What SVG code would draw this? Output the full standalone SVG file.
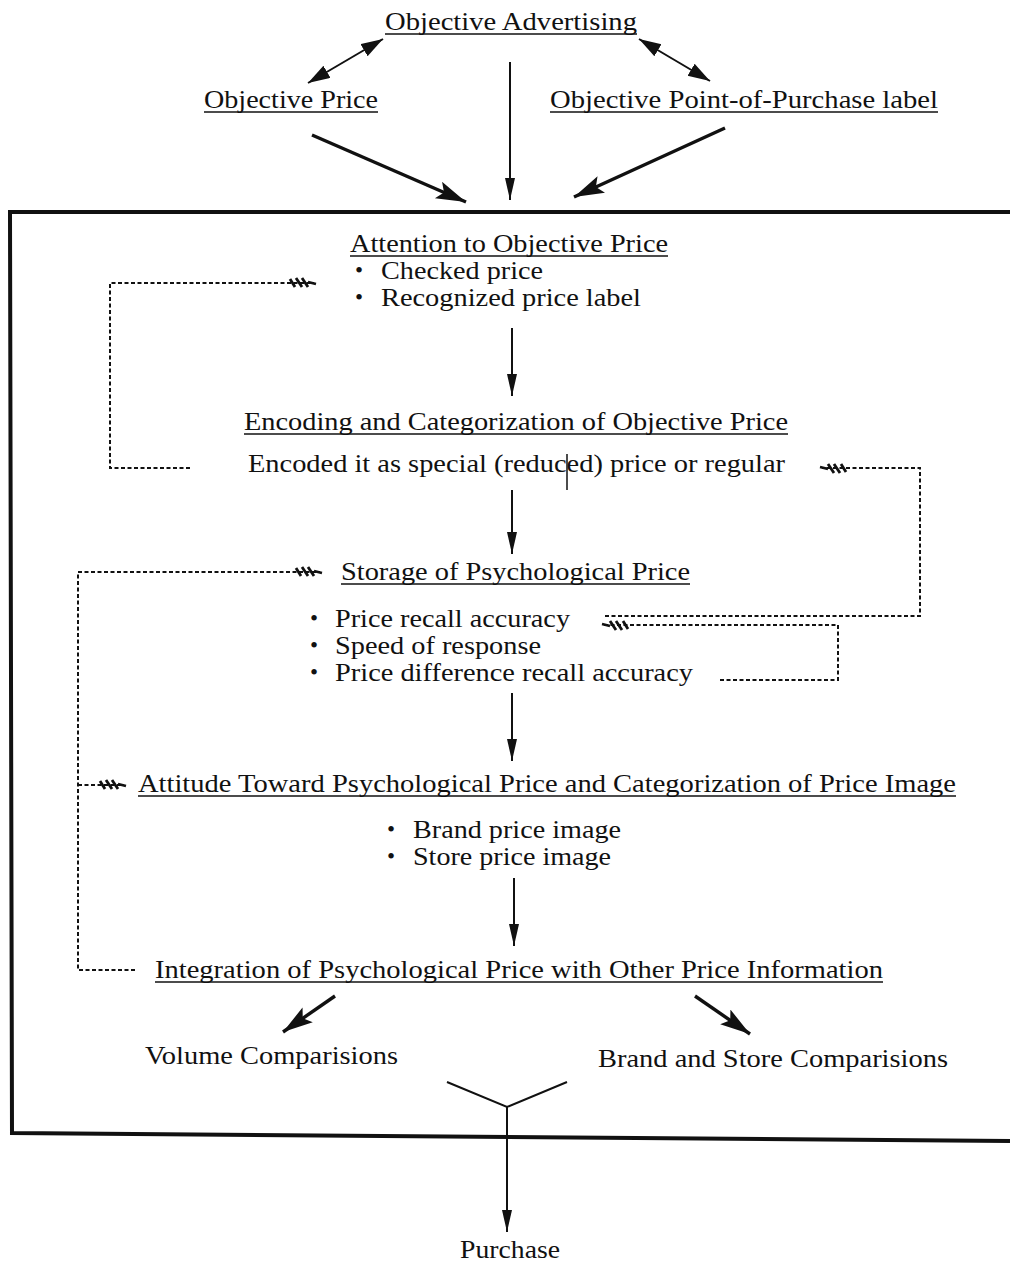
<svg xmlns="http://www.w3.org/2000/svg" width="1010" height="1264" viewBox="0 0 1010 1264">
<style>
text{font-family:"Liberation Serif","Times New Roman",serif;font-size:26px;fill:#111}
text.b{font-size:23px}
.ul{stroke:#111;stroke-width:1.6}
.sol{stroke:#111;stroke-width:2;fill:none}
.bold{stroke:#111;stroke-width:3.4;fill:none}
.dot{stroke:#111;stroke-width:2;fill:none;stroke-dasharray:4 2.5}
.box{stroke:#111;stroke-width:4;fill:none}
</style>
<defs>
<marker id="thin" markerUnits="userSpaceOnUse" markerWidth="24" markerHeight="12" refX="22" refY="5" orient="auto"><path d="M0,0 L22,5 L0,10 z" fill="#111"/></marker>
<marker id="thick" markerUnits="userSpaceOnUse" markerWidth="32" markerHeight="20" refX="30" refY="9" orient="auto"><path d="M0,0 L30,9 L0,18 L6,9 z" fill="#111"/></marker>
<marker id="dbl" markerUnits="userSpaceOnUse" markerWidth="24" markerHeight="16" refX="22" refY="7" orient="auto-start-reverse"><path d="M0,0 L22,7 L0,14 z" fill="#111"/></marker>
<marker id="hatch" markerUnits="userSpaceOnUse" markerWidth="30" markerHeight="16" refX="26" refY="8" orient="auto"><path d="M2,4 L7,12 M8,3 L14,12 M14,3 L20,12 M20,7 L28,9" stroke="#111" stroke-width="2.8" fill="none"/></marker>
</defs>

<g id="frame"><path class="box" d="M1010,212 L10,212 L12,1133 L1010,1141"/></g>

<g id="n-adv"><text x="385" y="30" textLength="252" lengthAdjust="spacingAndGlyphs">Objective Advertising</text><line class="ul" x1="385" y1="34" x2="637" y2="34"/></g>
<g id="n-price"><text x="204" y="108" textLength="174" lengthAdjust="spacingAndGlyphs">Objective Price</text><line class="ul" x1="204" y1="112" x2="378" y2="112"/></g>
<g id="n-pop"><text x="550" y="108" textLength="388" lengthAdjust="spacingAndGlyphs">Objective Point-of-Purchase label</text><line class="ul" x1="550" y1="112" x2="938" y2="112"/></g>

<g id="n-attention">
<text x="350" y="252" textLength="318" lengthAdjust="spacingAndGlyphs">Attention to Objective Price</text><line class="ul" x1="350" y1="256" x2="668" y2="256"/>
<text class="b" x="355" y="278">•</text><text x="381" y="279" textLength="162" lengthAdjust="spacingAndGlyphs">Checked price</text>
<text class="b" x="355" y="305">•</text><text x="381" y="306" textLength="260" lengthAdjust="spacingAndGlyphs">Recognized price label</text>
</g>
<g id="n-encoding">
<text x="244" y="430" textLength="544" lengthAdjust="spacingAndGlyphs">Encoding and Categorization of Objective Price</text><line class="ul" x1="244" y1="434" x2="788" y2="434"/>
<text x="248" y="472" textLength="537" lengthAdjust="spacingAndGlyphs">Encoded it as special (reduced) price or regular</text>
<line x1="567" y1="454" x2="567" y2="490" stroke="#111" stroke-width="1.5"/>
</g>
<g id="n-storage">
<text x="341" y="580" textLength="349" lengthAdjust="spacingAndGlyphs">Storage of Psychological Price</text><line class="ul" x1="341" y1="584" x2="690" y2="584"/>
<text class="b" x="310" y="626">•</text><text x="335" y="627" textLength="235" lengthAdjust="spacingAndGlyphs">Price recall accuracy</text>
<text class="b" x="310" y="653">•</text><text x="335" y="654" textLength="206" lengthAdjust="spacingAndGlyphs">Speed of response</text>
<text class="b" x="310" y="680">•</text><text x="335" y="681" textLength="358" lengthAdjust="spacingAndGlyphs">Price difference recall accuracy</text>
</g>
<g id="n-attitude">
<text x="138" y="792" textLength="818" lengthAdjust="spacingAndGlyphs">Attitude Toward Psychological Price and Categorization of Price Image</text><line class="ul" x1="138" y1="796" x2="956" y2="796"/>
<text class="b" x="387" y="837">•</text><text x="413" y="838" textLength="208" lengthAdjust="spacingAndGlyphs">Brand price image</text>
<text class="b" x="387" y="864">•</text><text x="413" y="865" textLength="198" lengthAdjust="spacingAndGlyphs">Store price image</text>
</g>
<g id="n-integration"><text x="155" y="978" textLength="728" lengthAdjust="spacingAndGlyphs">Integration of Psychological Price with Other Price Information</text><line class="ul" x1="155" y1="982" x2="883" y2="982"/></g>
<g id="n-volume"><text x="145" y="1064" textLength="253" lengthAdjust="spacingAndGlyphs">Volume Comparisions</text></g>
<g id="n-brandstore"><text x="598" y="1067" textLength="350" lengthAdjust="spacingAndGlyphs">Brand and Store Comparisions</text></g>
<g id="n-purchase"><text x="460" y="1258" textLength="100" lengthAdjust="spacingAndGlyphs">Purchase</text></g>

<g id="connectors">
<line class="sol" x1="383" y1="39" x2="308" y2="83" marker-start="url(#dbl)" marker-end="url(#dbl)"/>
<line class="sol" x1="639" y1="39" x2="710" y2="81" marker-start="url(#dbl)" marker-end="url(#dbl)"/>
<line class="sol" x1="510" y1="62" x2="510" y2="200" marker-end="url(#thin)"/>
<line class="bold" x1="312" y1="135" x2="466" y2="202" marker-end="url(#thick)"/>
<line class="bold" x1="725" y1="128" x2="574" y2="197" marker-end="url(#thick)"/>
<line class="sol" x1="512" y1="328" x2="512" y2="396" marker-end="url(#thin)"/>
<line class="sol" x1="512" y1="490" x2="512" y2="554" marker-end="url(#thin)"/>
<line class="sol" x1="512" y1="693" x2="512" y2="761" marker-end="url(#thin)"/>
<line class="sol" x1="514" y1="878" x2="514" y2="946" marker-end="url(#thin)"/>
<line class="bold" x1="335" y1="996" x2="283" y2="1032" marker-end="url(#thick)"/>
<line class="bold" x1="695" y1="996" x2="750" y2="1034" marker-end="url(#thick)"/>
<path class="sol" d="M447,1082 L507,1107 L567,1082"/>
<line class="sol" x1="507" y1="1107" x2="507" y2="1232" marker-end="url(#thin)"/>
<path class="dot" d="M190,468 L110,468 L110,283 L314,283" marker-end="url(#hatch)"/>
<path class="dot" d="M605,616 L920,616 L920,468 L822,468" marker-end="url(#hatch)"/>
<path class="dot" d="M720,680 L838,680 L838,625 L604,625" marker-end="url(#hatch)"/>
<path class="dot" d="M135,970 L78,970 L78,572 L320,572" marker-end="url(#hatch)"/>
<path class="dot" d="M78,785 L124,785" marker-end="url(#hatch)"/>
</g>
</svg>
